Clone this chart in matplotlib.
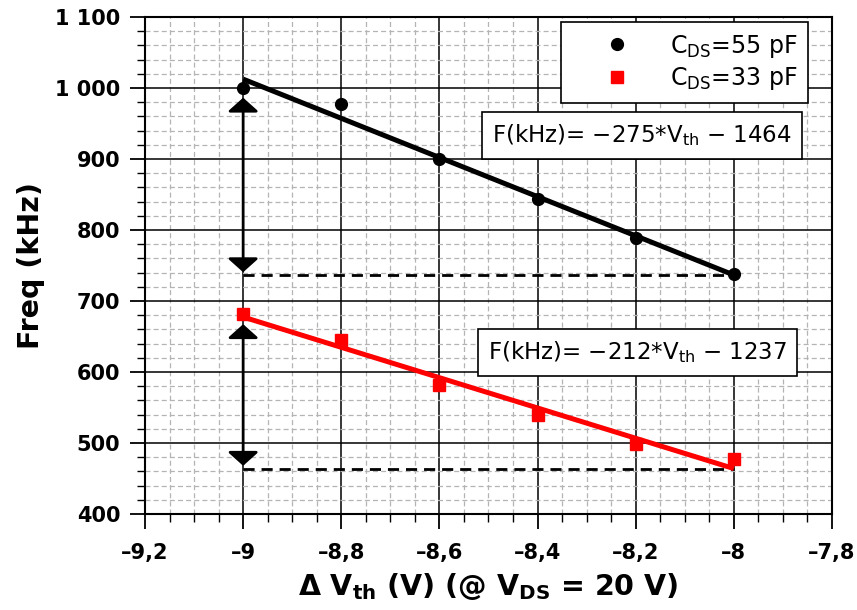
import numpy as np
import matplotlib.pyplot as plt
from matplotlib.ticker import MultipleLocator, FuncFormatter

# data
vth = [-9.0, -8.8, -8.6, -8.4, -8.2, -8.0]
freq_55 = [1000, 977, 900, 843, 789, 738]
freq_33 = [681, 645, 581, 540, 499, 478]
labels = [r'C$_{\mathregular{DS}}$=55 pF', r'C$_{\mathregular{DS}}$=33 pF']
eq_texts = ['F(kHz)= \u2212275*V$_{\\mathregular{th}}$ \u2212 1464',
            'F(kHz)= \u2212212*V$_{\\mathregular{th}}$ \u2212 1237']

plt.rcParams['font.family'] = 'DejaVu Sans'

fig = plt.figure(figsize=(8.57, 6.10), dpi=100)
ax = fig.add_axes([0.1692, 0.1574, 0.8016, 0.8148])

x = np.array(vth)
xfit = np.array([x.min(), x.max()])
fits = []
for y, col in [(freq_55, 'black'), (freq_33, '#ff0000')]:
    p = np.polyfit(x, y, 1)
    yf = np.polyval(p, xfit)
    fits.append(yf)
    ax.plot(xfit, yf, color=col, lw=3.6, zorder=3, solid_capstyle='butt')

ax.plot(x, freq_55, 'o', color='black', ms=8.5, zorder=4, label=labels[0])
ax.plot(x, freq_33, 's', color='#ff0000', ms=8.5, zorder=4, label=labels[1])

# dashed reference lines and double arrows
for yf, ytop in [(fits[0], freq_55[0]), (fits[1], freq_33[0])]:
    ax.plot(xfit, [yf[1], yf[1]], color='black', ls=(0, (4, 2.5)), lw=2, zorder=2)
    ax.annotate('', xy=(x[0], yf[1]), xytext=(x[0], ytop),
                arrowprops=dict(arrowstyle='<|-|>,head_width=0.47,head_length=0.42',
                                color='black', lw=2, mutation_scale=20,
                                shrinkA=7, shrinkB=2),
                zorder=3)

ax.set_xlim(-9.2, -7.8)
ax.set_ylim(400, 1100)
ax.xaxis.set_major_locator(MultipleLocator(0.2))
ax.xaxis.set_minor_locator(MultipleLocator(0.05))
ax.yaxis.set_major_locator(MultipleLocator(100))
ax.yaxis.set_minor_locator(MultipleLocator(20))
# en dash as the minus sign, comma as decimal mark
ax.xaxis.set_major_formatter(FuncFormatter(
    lambda v, pos: f'{v:g}'.replace('.', ',').replace('-', '\u2013')))
ax.yaxis.set_major_formatter(FuncFormatter(
    lambda v, pos: f'{int(round(v)):,}'.replace(',', ' ')))

ax.grid(which='major', color='black', lw=1.1)
ax.grid(which='minor', color='#b4b4b4', lw=0.9, ls=(0, (4, 2.5)))
ax.set_axisbelow(True)
for s in ax.spines.values():
    s.set_linewidth(1.5)

ax.tick_params(which='major', direction='out', length=10.8, width=1.3,
               labelsize=15, pad=7)
ax.tick_params(which='minor', direction='out', length=5.8, width=1)
ax.tick_params(axis='x', which='major', pad=10)
for lab in ax.get_xticklabels() + ax.get_yticklabels():
    lab.set_fontweight('bold')

ax.set_ylabel('Freq (kHz)', fontsize=20.5, fontweight='bold', labelpad=7)
ax.set_xlabel(r'$\mathbf{\Delta}$ V$_{\mathregular{th}}$ (V) (@ V$_{\mathregular{DS}}$ = 20 V)',
              fontsize=20.5, fontweight='bold', labelpad=6)

leg = ax.legend(loc='upper right', bbox_to_anchor=(0.965, 0.990),
                borderaxespad=0, fancybox=False, framealpha=1,
                edgecolor='black', fontsize=17, handletextpad=0.35,
                borderpad=0.45, labelspacing=0.25, handlelength=3.8)
leg.get_frame().set_linewidth(1.2)
leg.set_zorder(6)

box = dict(boxstyle='square,pad=0.45', fc='white', ec='black', lw=1.2)
ax.text(0.7234, 0.7616, eq_texts[0], transform=ax.transAxes, fontsize=16.5,
        ha='center', va='center', bbox=box, zorder=6)
ax.text(0.717, 0.325, eq_texts[1], transform=ax.transAxes, fontsize=16.5,
        ha='center', va='center', bbox=box, zorder=6)

fig.savefig('out.png', dpi=100)
